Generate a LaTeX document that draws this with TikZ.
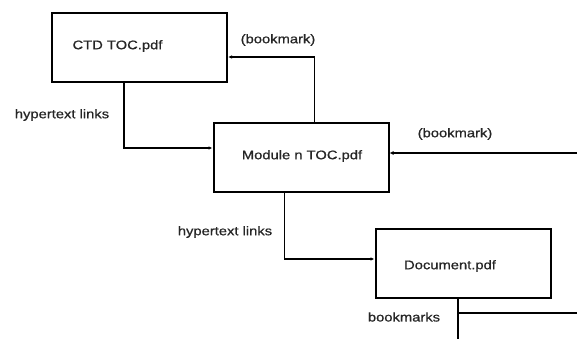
\documentclass[tikz,border=0pt]{standalone}
\usepackage{fontspec}
\newfontfamily\lfont[FakeStretch=1.18,FakeBold=0.8]{Liberation Sans}
\usetikzlibrary{arrows.meta}
\begin{document}
\begin{tikzpicture}[x=1pt,y=-1pt,
  box/.style={draw=black,line width=2pt,minimum width=175pt,minimum height=69pt,inner sep=0pt},
  txt/.style={font=\lfont\fontsize{12.5}{15}\selectfont,inner sep=0pt,text=black!85},
  conn/.style={draw=black,line width=1.5pt,-{Latex[length=4pt,width=3.5pt]}},
  heavy/.style={draw=black,line width=2.8pt},
  heavyarrow/.style={draw=black,line width=2.8pt,-{Latex[length=4pt,width=4pt]}}]
\useasboundingbox (0,0) rectangle (577,339);
% boxes
\node[box] (ctd) at (139.5,47.5) {};
\node[box] (mod) at (301,157.5) {};
\node[box] (doc) at (463,263.5) {};
% box texts
\node[txt] (ctdt) at (117.5,46) {CTD TOC.pdf};
\node[txt] (modt) at (302,156) {Module n TOC.pdf};
\node[txt] (doct) at (450,266) {Document.pdf};
% labels
\node[txt] (l1) at (278,40) {(bookmark)};
\node[txt] (l2) at (62,115) {hypertext links};
\node[txt] (l3) at (455,134) {(bookmark)};
\node[txt] (l4) at (225,232) {hypertext links};
\node[txt] (l5) at (404,317) {bookmarks};
% connectors
\draw[conn] ([xshift=73pt]ctd.south west) |- ([yshift=9.5pt]mod.west);
\draw[conn] ([xshift=102pt]mod.north west) |- ([yshift=-9.5pt]ctd.east);
\draw[conn] ([xshift=72pt]mod.south west) |- ([yshift=4.5pt]doc.west);
\coordinate (r1) at (577,153);
\draw[heavyarrow] (r1) -- (mod.east |- r1);
\coordinate (b1) at (458,339);
\coordinate (b2) at (577,313);
\draw[heavy] (doc.south -| b1) -- (b1);
\draw[heavy] (b1 |- b2) -- (b2);
\end{tikzpicture}
\end{document}
